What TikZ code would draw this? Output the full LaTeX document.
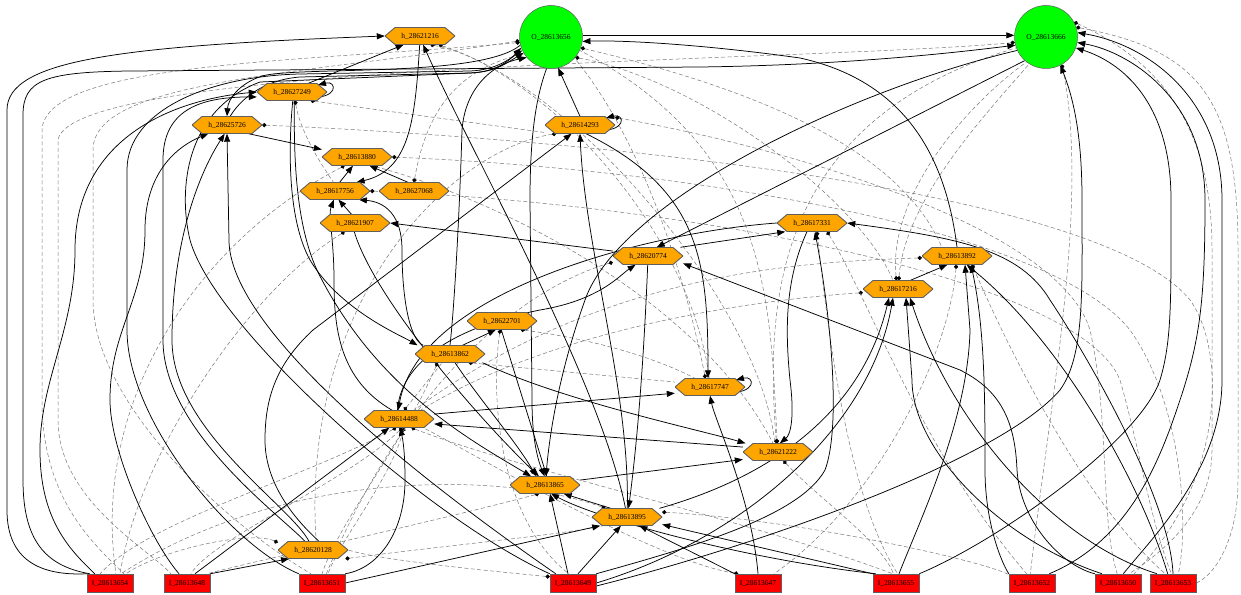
\documentclass[tikz,border=0pt]{standalone}
\usepackage{fontspec}
\setmainfont{Liberation Serif}
\usetikzlibrary{arrows.meta,calc}
\definecolor{horange}{RGB}{255,165,0}
\definecolor{ogreen}{RGB}{0,255,0}
\definecolor{ired}{RGB}{255,0,0}
\definecolor{nedge}{RGB}{95,95,95}
\definecolor{dgray}{RGB}{120,120,120}
\pgfdeclarelayer{edgelayer}
\pgfsetlayers{edgelayer,main}
\newcommand{\nlbl}{\fontsize{7.5}{8}\selectfont}
\begin{document}
\begin{tikzpicture}[x=1pt,y=-1pt,
 hexn/.style={rectangle, inner sep=0pt, minimum width=70pt, minimum height=17pt, font=\nlbl,
   path picture={\path[fill=horange, draw=nedge, line width=0.9pt]
     (path picture bounding box.west) -- ([xshift=10pt]path picture bounding box.north west)
     -- ([xshift=-10pt]path picture bounding box.north east) -- (path picture bounding box.east)
     -- ([xshift=-10pt]path picture bounding box.south east) -- ([xshift=10pt]path picture bounding box.south west) -- cycle;}},
 outn/.style={circle, minimum size=63pt, inner sep=0pt, fill=ogreen, draw=nedge, line width=0.5pt, font=\nlbl},
 inn/.style={rectangle, minimum width=46pt, minimum height=18pt, inner sep=0pt, fill=ired, draw=nedge, line width=0.5pt, font=\nlbl},
 se/.style={draw=black, line width=0.75pt, -{Triangle[length=8pt,width=6pt]}},
 lp/.style={draw=black, line width=0.75pt, {Circle[length=4.2pt]}-{Triangle[length=8pt,width=6pt]}},
 de/.style={draw=dgray, line width=0.5pt, dash pattern=on 4pt off 2.5pt, {Circle[length=4.2pt,color=black]}-},
]
\useasboundingbox (0,0) rectangle (1241,594);
% nodes
\node[outn] (O656) at (551,37) {O\_28613656};
\node[outn] (O666) at (1046,37) {O\_28613666};
\node[hexn] (h216) at (420,36) {h\_28621216};
\node[hexn] (h249) at (292,92) {h\_28627249};
\node[hexn] (h726) at (227,125) {h\_28625726};
\node[hexn] (h293) at (580,125) {h\_28614293};
\node[hexn] (h880) at (357,157) {h\_28613880};
\node[hexn] (h756) at (335,191) {h\_28617756};
\node[hexn] (h068) at (414,191) {h\_28627068};
\node[hexn] (h907) at (355,223) {h\_28621907};
\node[hexn] (h331) at (812,223) {h\_28617331};
\node[hexn] (h774) at (648,256) {h\_28620774};
\node[hexn] (h892) at (957,256) {h\_28613892};
\node[hexn] (h7216) at (898,289) {h\_28617216};
\node[hexn] (h701) at (502,321) {h\_28622701};
\node[hexn] (h862) at (450,354) {h\_28613862};
\node[hexn] (h747) at (710,387) {h\_28617747};
\node[hexn] (h488) at (399,419) {h\_28614488};
\node[hexn] (h222) at (778,452) {h\_28621222};
\node[hexn] (h865) at (545,485) {h\_28613865};
\node[hexn] (h895) at (627,517) {h\_28613895};
\node[hexn] (h128) at (313,550) {h\_28620128};
\node[inn] (l654) at (110,583) {I\_28613654};
\node[inn] (l648) at (187,583) {I\_28613648};
\node[inn] (l651) at (322,583) {I\_28613651};
\node[inn] (l649) at (573,583) {I\_28613649};
\node[inn] (l647) at (758,583) {I\_28613647};
\node[inn] (l655) at (896,583) {I\_28613655};
\node[inn] (l652) at (1032,583) {I\_28613652};
\node[inn] (l650) at (1118,583) {I\_28613650};
\node[inn] (l653) at (1173,583) {I\_28613653};
\begin{pgfonlayer}{edgelayer}
\fill[white] (0,0) rectangle (1241,594);
% dashed edges
\draw[de] (h216.335) .. controls (550,80) and (690,230) .. (h747.95);
\draw[de] (h216.320) .. controls (560,70) and (760,300) .. (h222.110);
\draw[de] (h249.335) -- (h293.192);
\draw[de] (h726.east) .. controls (600,140) and (1100,190) .. (1190,300) .. controls (1226,350) and (1226,480) .. (l650.30);
\draw[de] (h880.east) .. controls (700,170) and (1050,230) .. (1130,330) .. controls (1180,400) and (1190,520) .. (l653.60);
\draw[de] (h756.east) .. controls (700,205) and (1080,280) .. (1120,380) .. controls (1140,450) and (1150,520) .. (l653.100);
\draw[de] (h068.north) .. controls (425,120) and (450,70) .. (O656.212);
\draw[de] (h249.290) .. controls (300,130) and (318,160) .. (h756.100);
\draw[de] (h880.215) .. controls (200,240) and (90,400) .. ([xshift=6pt]l654.north);
\draw[de] (h907.220) .. controls (250,290) and (140,450) .. ([xshift=10pt]l654.north);
\draw[de] (h862.215) .. controls (400,450) and (340,520) .. (l651.north);
\draw[de] (h862.335) -- (h747.172);
\draw[de] (h701.258) .. controls (490,400) and (500,520) .. (l649.115);
\draw[de] (h701.335) .. controls (600,340) and (660,360) .. (h747.150);
\draw[de] (h488.60) -- (h862.228);
\draw[de] (h488.252) .. controls (300,480) and (150,520) .. ([xshift=-10pt]l654.north);
\draw[de] (h488.290) .. controls (350,480) and (210,540) .. ([xshift=4pt]l648.north);
\draw[de] (h488.300) .. controls (390,480) and (340,540) .. ([xshift=6pt]l651.north);
\draw[de] (h488.325) .. controls (520,470) and (750,520) .. (l655.110);
\draw[de] (h128.168) .. controls (250,530) and (160,550) .. (l654.30);
\draw[de] (h128.345) .. controls (450,545) and (560,535) .. (h895.200);
\draw[de] (h865.235) .. controls (440,520) and (260,560) .. (l648.25);
\draw[de] (h895.158) .. controls (500,470) and (280,470) .. (l654.40);
\draw[de] (h222.95) .. controls (770,300) and (770,150) .. (O656.335);
\draw[de] (h222.100) .. controls (765,300) and (775,120) .. (O666.200);
\draw[de] (h222.302) .. controls (820,500) and (880,540) .. (l655.105);
\draw[de] (h747.118) .. controls (690,300) and (650,150) .. (O656.318);
\draw[de] (h7216.100) .. controls (888,200) and (960,110) .. (O666.232);
\draw[de] (h7216.85) .. controls (905,200) and (985,115) .. (O666.238);
\draw[de] (h7216.186) .. controls (750,300) and (550,330) .. (h488.22);
\draw[de] (h892.183) .. controls (800,262) and (600,272) .. (h488.30);
\draw[de] (h892.265) .. controls (950,350) and (880,500) .. (l647.30);
\draw[de] (h774.190) .. controls (550,280) and (420,350) .. (l651.65);
\draw[de] (h331.300) .. controls (830,350) and (850,500) .. (l655.80);
\draw[de] (O666.18) .. controls (1200,50) and (1238,100) .. (1238,250) -- (1238,480) .. controls (1238,540) and (1215,575) .. (l653.east);
\draw[de] (O666.28) .. controls (1180,70) and (1212,150) .. (1212,250) -- (1212,450) .. controls (1212,520) and (1150,560) .. (l650.40);
\draw[de] (O666.300) .. controls (1090,200) and (1050,400) .. (l652.100);
\draw[de] (O656.190) .. controls (300,62) and (45,62) .. (42,130) -- (42,400) .. controls (42,500) and (95,545) .. ([xshift=14pt]l654.north);
\draw[de] (O666.190) .. controls (800,62) and (70,62) .. (58,140) -- (58,420) .. controls (58,500) and (150,550) .. (l648.150);
\draw[de] (O656.187) .. controls (300,75) and (93,80) .. (93,150) -- (93,300) .. controls (93,400) and (220,520) .. (l651.140);
\draw[de] (h895.8) .. controls (800,520) and (980,560) .. (l652.160);
\draw[de] (l647.155) .. controls (650,560) and (450,440) .. (h488.340);
\draw[de] (l649.165) .. controls (480,570) and (380,560) .. (h128.east);
\draw[de] (O656.320) .. controls (700,80) and (860,200) .. (h7216.120);
\draw[de] (O656.340) .. controls (760,90) and (900,150) .. (h892.150);
\draw[de] (h293.12) .. controls (800,150) and (1060,230) .. (1090,330) .. controls (1110,420) and (1100,520) .. (l650.95);
\draw[de] (h293.200) .. controls (450,150) and (300,300) .. (h128.70);
\draw[de] (h880.330) .. controls (500,200) and (700,300) .. (h222.120);
\draw[de] (h331.330) .. controls (870,300) and (920,450) .. (l652.120);
\draw[de] (h892.330) .. controls (1000,330) and (1080,500) .. (l653.130);
% solid edges
\draw[se] (l654.north west) .. controls (40,576) and (7,560) .. (7,510) -- (7,110) .. controls (7,60) and (120,46) .. (h216.west);
\draw[se] ([xshift=3pt]l654.north west) .. controls (45,566) and (23,540) .. (23,480) -- (23,115) .. controls (23,80) and (45,72) .. (130,71) -- (700,67) .. controls (850,65) and (960,52) .. (O666.195);
\draw[se] ([xshift=8pt]l654.north west) .. controls (70,550) and (40,520) .. (40,450) .. controls (40,380) and (75,330) .. (75,250) .. controls (75,140) and (170,100) .. (h249.west);
\draw[se] (l651.north west) .. controls (230,545) and (127,420) .. (127,330) -- (127,170) .. controls (127,110) and (210,76) .. (300,74) -- (470,71) .. controls (495,70) and (508,60) .. (O656.205);
\draw[se] ([xshift=-8pt]l648.north) .. controls (150,540) and (110,450) .. (110,400) .. controls (110,330) and (145,300) .. (145,230) .. controls (145,170) and (180,145) .. (h726.205);
\draw[se] (l648.north east) -- (h128.200);
\draw[se] ([xshift=8pt]l648.north) -- (h488.222);
\draw[se] (l651.north east) .. controls (380,568) and (405,530) .. (405,480) .. controls (405,460) and (404,445) .. (h488.278);
\draw[se] (l651.east) -- (h895.198);
\draw[se] ([xshift=-4pt]h128.north) .. controls (290,505) and (172,430) .. (172,340) .. controls (172,250) and (195,180) .. (h726.255);
\draw[se] ([xshift=-8pt]h128.north) .. controls (280,515) and (163,430) .. (163,340) -- (163,160) .. controls (163,110) and (200,97) .. (h249.188);
\draw[se] ([xshift=6pt]h128.north) .. controls (290,515) and (265,480) .. (265,440) .. controls (265,400) and (275,365) .. (313,330) -- (h293.226);
\draw[se] (l649.north west) .. controls (430,520) and (215,330) .. (190,240) .. controls (178,190) and (185,110) .. (260,82) -- (470,73) .. controls (495,72) and (505,64) .. (O656.210);
\draw[se] ([xshift=6pt]l649.north west) .. controls (420,480) and (229,330) .. (229,240) -- (h726.south);
\draw[se] ([xshift=-5pt]l649.north) -- ([xshift=5pt]h865.south);
\draw[se] ([xshift=5pt]l649.north) -- (h895.235);
\draw[se] (l649.north east) .. controls (700,545) and (800,515) .. (825,470) .. controls (840,430) and (833,330) .. ([xshift=3pt]h331.south);
\draw[se] (l649.east) .. controls (740,540) and (870,430) .. ([xshift=-5pt]h7216.south);
\draw[se] ([yshift=-3pt]l649.east) .. controls (760,545) and (1000,460) .. (1060,390) .. controls (1085,355) and (1082,290) .. (1082,200) .. controls (1082,130) and (1072,95) .. (O666.297);
\draw[se] (h895.100) .. controls (600,380) and (470,150) .. (h216.290);
\draw[se] (h895.88) .. controls (630,390) and (585,250) .. (h293.270);
\draw[se] (h293.305) .. controls (700,190) and (708,260) .. ([xshift=-2pt]h747.north);
\draw[se] (h293.north) -- (O656.283);
\draw[se] (h862.north) .. controls (455,300) and (460,200) .. (462,130) .. controls (465,90) and (490,65) .. (O656.220);
\draw[se] (h862.35) -- (h701.235);
\draw[se] (h862.300) .. controls (480,400) and (515,440) .. (h865.135);
\draw[se] (h862.345) .. controls (560,400) and (700,430) .. (h222.165);
\draw[se] (h701.265) -- (h865.78);
\draw[se] (h907.265) .. controls (375,300) and (480,420) .. (h865.125);
\draw[se] (h774.172) -- (h907.east);
\draw[se] (h774.15) -- (h331.198);
\draw[se] (h774.268) .. controls (645,330) and (640,420) .. (h895.80);
\draw[se] (h488.100) .. controls (400,370) and (440,330) .. (540,310) .. controls (600,300) and (620,275) .. (h774.215);
\draw[se] (h331.west) .. controls (650,232) and (420,290) .. (h488.96);
\draw[se] (O666.228) -- (h774.45);
\draw[se] (O666.205) .. controls (850,90) and (620,200) .. (585,300) .. controls (560,370) and (550,430) .. (h865.84);
\draw[se] (h488.8) -- (h747.190);
\draw[se] (h222.172) -- (h488.352);
\draw[se] (h865.8) -- (h222.192);
\draw[se] (h895.15) .. controls (760,480) and (860,420) .. ([xshift=-9pt]h7216.south);
\draw[se] (h895.152) -- (h865.335);
\draw[se] ([xshift=3pt]l655.north west) .. controls (750,560) and (600,520) .. (h865.305);
\draw[se] (l655.north west) -- (h895.348);
\draw[se] (l647.north west) -- (h895.325);
\draw[se] (l647.north) .. controls (752,500) and (715,420) .. (h747.south);
\draw[se] ([xshift=3pt]l655.north) .. controls (920,520) and (968,420) .. (970,330) -- ([xshift=8pt]h892.south);
\draw[se] (l655.north east) .. controls (1000,540) and (1140,440) .. (1160,380) .. controls (1172,340) and (1171,300) .. (1171,200) .. controls (1171,100) and (1120,62) .. (O666.340);
\draw[se] (l652.north west) .. controls (1000,560) and (985,520) .. (985,470) .. controls (985,400) and (985,330) .. ([xshift=14pt]h892.south);
\draw[se] ([xshift=-6pt]l652.north east) .. controls (1130,540) and (1160,460) .. (1180,400) .. controls (1200,340) and (1205,300) .. (1205,200) .. controls (1205,100) and (1130,52) .. (O666.350);
\draw[se] (l650.north west) .. controls (1060,565) and (1020,520) .. (1017,470) .. controls (1015,420) and (1000,390) .. (960,370) -- (h774.348);
\draw[se] (l650.150) .. controls (1000,540) and (912,450) .. (912,380) -- ([xshift=8pt]h7216.south);
\draw[se] (l653.150) .. controls (1050,540) and (950,420) .. ([xshift=12pt]h7216.south);
\draw[se] (l653.120) .. controls (1140,480) and (1060,340) .. (h892.318);
\draw[se] (l653.90) .. controls (1170,500) and (1090,360) .. (1050,300) .. controls (1020,250) and (960,238) .. (h331.east);
\draw[se] (l650.60) .. controls (1150,540) and (1222,470) .. (1222,380) -- (1222,200) .. controls (1222,100) and (1150,45) .. (O666.8);
\draw[se] (h892.north) .. controls (945,150) and (900,80) .. (800,58) .. controls (700,44) and (620,40) .. (O656.352);
\draw[se] (O656.3) -- (O666.177);
\draw[se] (h7216.35) -- (h892.222);
\draw[se] (h216.268) .. controls (415,120) and (410,170) .. (h756.22);
\draw[se] (h249.28) -- (h216.208);
\draw[se] (h756.62) -- (h880.245);
\draw[se] (h068.125) -- (h880.325);
\draw[se] (h726.338) -- (h880.168);
\draw[se] (h907.112) -- (h756.292);
\draw[se] (h488.128) .. controls (340,380) and (334,330) .. (334,280) .. controls (334,240) and (328,215) .. (h756.262);
\draw[se] (h862.162) .. controls (410,340) and (402,300) .. (402,250) .. controls (402,215) and (385,202) .. (h756.340);
\draw[se] (O656.195) .. controls (480,78) and (300,66) .. (262,76) .. controls (238,84) and (228,100) .. (h726.north);
\draw[se] (h726.70) .. controls (240,100) and (262,80) .. (300,77) -- (470,73) .. controls (495,72) and (508,62) .. (O656.200);
\draw[se] (O656.262) .. controls (535,100) and (530,140) .. (530,200) -- (532,400) .. controls (532,440) and (538,460) .. (h865.93);
\draw[se] (h249.275) .. controls (288,150) and (288,220) .. (310,260) .. controls (340,310) and (400,335) .. (h862.165);
\draw[se] (h249.285) .. controls (294,150) and (294,230) .. (322,280) .. controls (380,390) and (470,440) .. (h865.148);
\draw[se] (h331.240) .. controls (785,280) and (785,330) .. (790,380) .. controls (795,420) and (790,435) .. (h222.78);
% self loops
\draw[lp] ($(h249)+(10,5)$) .. controls ($(h249)+(48,8)$) and ($(h249)+(45,-12)$) .. ($(h249)+(26,-7)$);
\draw[lp] ($(h293)+(10,5)$) .. controls ($(h293)+(48,8)$) and ($(h293)+(45,-12)$) .. ($(h293)+(26,-7)$);
\draw[lp] ($(h747)+(10,5)$) .. controls ($(h747)+(48,8)$) and ($(h747)+(45,-12)$) .. ($(h747)+(26,-7)$);
\end{pgfonlayer}
\end{tikzpicture}
\end{document}
